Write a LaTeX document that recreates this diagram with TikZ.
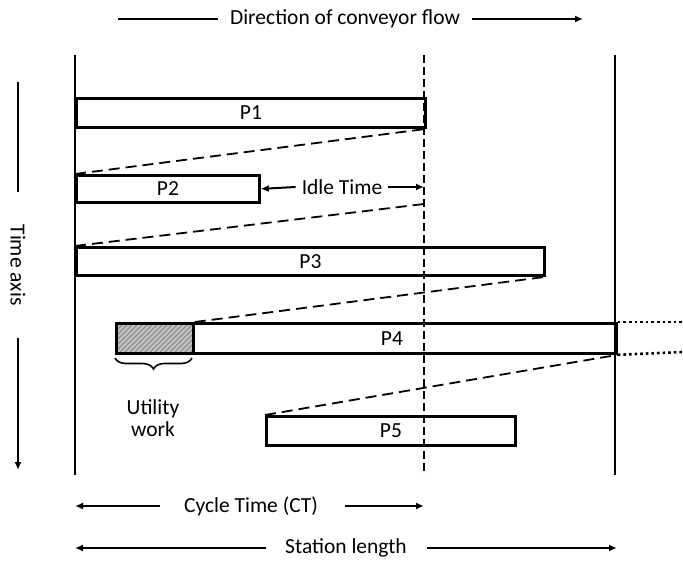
\documentclass[tikz,border=0pt]{standalone}
\usepackage{fontspec}
\setmainfont{Carlito}
\usetikzlibrary{arrows.meta,decorations.pathreplacing}
\begin{document}
\begin{tikzpicture}[x=1pt,y=-1pt,
  font=\fontsize{21.5}{25}\selectfont,
  bar/.style={draw,line width=2.8pt,anchor=north west,inner sep=0pt},
  guide/.style={line width=2.4pt},
  link/.style={line width=1.8pt,dash pattern=on 11pt off 6pt},
  dim/.style={line width=2pt,-{Latex[length=8pt,width=7pt]}},
  lbl/.style={inner sep=4pt}]
\useasboundingbox (0,0) rectangle (683,561);

% station borders and the cycle-time limit
\coordinate (lt) at (75,55);   \coordinate (lb) at (75,475);
\coordinate (ct) at (424,55);  \coordinate (cb) at (424,475);
\coordinate (rt) at (615,55);  \coordinate (rb) at (615,475);
\draw[guide] (lt) -- (lb);
\draw[guide] (rt) -- (rb);
\draw[guide,dash pattern=on 8pt off 4pt] (ct) -- (cb);

% products at the station
\node[bar,minimum width=349pt,minimum height=29pt] (p1) at (75,97) {};
\node at (p1.center) {P1};
\node[bar,minimum width=183pt,minimum height=27pt] (p2) at (75,174) {};
\node at (p2.center) {P2};
\node[bar,minimum width=468pt,minimum height=28pt] (p3) at (75,246) {};
\node at (p3.center) {P3};
\node[bar,minimum width=77pt,minimum height=30pt,fill=gray!45] (uw) at (115,322) {};
\begin{scope}
  \clip (uw.north west) rectangle (uw.south east);
  \foreach \i in {-40,-35,...,90}
    \draw[gray!90,line width=1.3pt] (115+\i,352) -- (145+\i,322);
\end{scope}
\node[bar,minimum width=77pt,minimum height=30pt] at (115,322) {};
\node[bar,minimum width=423pt,minimum height=30pt] (p4) at (192,322) {};
\node at ([xshift=-13pt]p4.center) {P4};
\node[bar,minimum width=249pt,minimum height=29pt] (p5) at (265,415) {};
\node at (p5.center) {P5};

% transfer lines between consecutive products
\coordinate (c1) at (424,204);
\draw[link] (p2.north west) -- (p1.south east);
\draw[link] (p3.north west) -- (c1);
\draw[link] (uw.north east) -- (p3.south east);
\draw[link] (p5.north west) -- (p4.south east);

% P4 running past the station border
\coordinate (d1) at (683,322);
\coordinate (d2) at (683,352);
\draw[line width=2.6pt,dash pattern=on 2.6pt off 3pt] (p4.north east) -- (d1);
\draw[line width=2.6pt,dash pattern=on 2.6pt off 3pt] (p4.south east) -- (d2);

% idle time
\coordinate (it) at (424,187);
\node[lbl,inner xsep=6pt] (idle) at (342,187) {Idle Time};
\draw[dim] (idle.west) -- (p2.east);
\draw[dim] (idle.east) -- (it);

% utility work brace
\draw[line width=1.6pt,decorate,decoration={brace,amplitude=11pt}]
  (192,358) -- (115,358);
\node[align=center,font=\fontsize{21.5}{22}\selectfont] (uwl) at (153,418) {Utility\\work};

% direction of conveyor flow
\node[lbl] (flow) at (345,19) {Direction of conveyor flow};
\coordinate (f0) at (118,19);
\coordinate (f1) at (583,19);
\draw[line width=2pt] (f0) -- ([xshift=-8pt]flow.west);
\draw[dim] ([xshift=8pt]flow.east) -- (f1);

% time axis
\node[lbl,rotate=-90] (time) at (18,265) {Time axis};
\coordinate (t0) at (18,82);
\coordinate (t1) at (18,470);
\draw[line width=2pt] (t0) -- (18,192);
\draw[dim] (18,338) -- (t1);

% cycle time and station length
\node[lbl] (ctl) at (251,506) {Cycle Time (CT)};
\coordinate (ca) at (75,506);
\coordinate (cz) at (424,506);
\draw[dim] (160,506) -- (ca);
\draw[dim] (345,506) -- (cz);

\node[lbl] (sl) at (346,548) {Station length};
\coordinate (sa) at (75,548);
\coordinate (sz) at (617,548);
\draw[dim] (266,548) -- (sa);
\draw[dim] (427,548) -- (sz);
\end{tikzpicture}
\end{document}
